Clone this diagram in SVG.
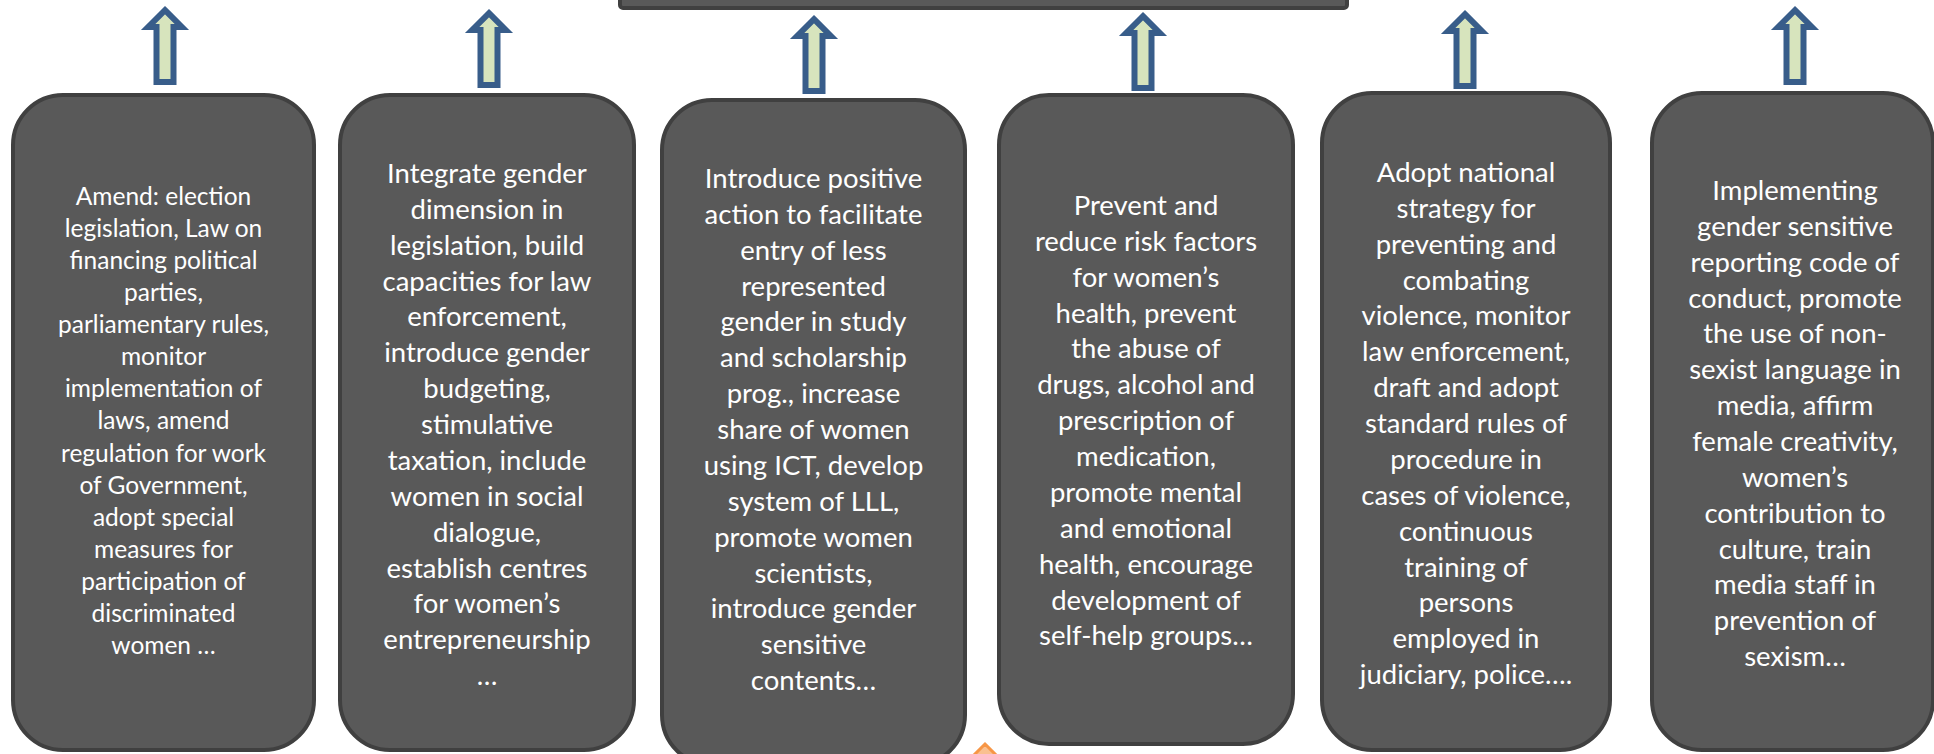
<svg xmlns="http://www.w3.org/2000/svg" xmlns:xlink="http://www.w3.org/1999/xlink" width="1934" height="754" viewBox="0 0 1934 754">
<style>
.box{fill:#595959;stroke:#404040;stroke-width:4}
.arr{fill:#d7e4bd;stroke:#385d8a;stroke-width:6;stroke-linejoin:miter;stroke-miterlimit:4}
.t{font-family:Lato,"Open Sans","Liberation Sans",sans-serif;fill:#ffffff;text-anchor:middle;font-size:27.5px}
.t1{font-size:24.5px}
</style>
<defs>
<polygon id="up" class="arr" points="0,4.2 16.8,21 8.5,21 8.5,76 -8.5,76 -8.5,21 -16.8,21"/>
</defs>
<rect width="1934" height="754" fill="#ffffff"/>
<g id="top-box">
<rect class="box" x="620" y="-30" width="727" height="38" rx="3"/>
</g>
<g id="connectors">
<use xlink:href="#up" href="#up" x="165" y="6"/>
<use xlink:href="#up" href="#up" x="489" y="9"/>
<use xlink:href="#up" href="#up" x="814" y="15"/>
<use xlink:href="#up" href="#up" x="1143" y="12"/>
<use xlink:href="#up" href="#up" x="1465" y="10"/>
<use xlink:href="#up" href="#up" x="1795" y="6"/>
<polygon points="985,744 1013,772 999,772 999,800 971,800 971,772 957,772" fill="#fac090" stroke="#f79646" stroke-width="3"/>
</g>
<g id="box1">
<rect class="box" x="13" y="95" width="301" height="655" rx="50"/>
<text class="t t1" x="163.5" y="205">Amend: election</text>
<text class="t t1" x="163.5" y="237">legislation, Law on</text>
<text class="t t1" x="163.5" y="269">financing political</text>
<text class="t t1" x="163.5" y="301">parties,</text>
<text class="t t1" x="163.5" y="333">parliamentary rules,</text>
<text class="t t1" x="163.5" y="365">monitor</text>
<text class="t t1" x="163.5" y="397">implementation of</text>
<text class="t t1" x="163.5" y="429">laws, amend</text>
<text class="t t1" x="163.5" y="462">regulation for work</text>
<text class="t t1" x="163.5" y="494">of Government,</text>
<text class="t t1" x="163.5" y="526">adopt special</text>
<text class="t t1" x="163.5" y="558">measures for</text>
<text class="t t1" x="163.5" y="590">participation of</text>
<text class="t t1" x="163.5" y="622">discriminated</text>
<text class="t t1" x="163.5" y="654">women …</text>
</g>
<g id="box2">
<rect class="box" x="340" y="95" width="294" height="655" rx="50"/>
<text class="t" x="487" y="183">Integrate gender</text>
<text class="t" x="487" y="219">dimension in</text>
<text class="t" x="487" y="255">legislation, build</text>
<text class="t" x="487" y="291">capacities for law</text>
<text class="t" x="487" y="326">enforcement,</text>
<text class="t" x="487" y="362">introduce gender</text>
<text class="t" x="487" y="398">budgeting,</text>
<text class="t" x="487" y="434">stimulative</text>
<text class="t" x="487" y="470">taxation, include</text>
<text class="t" x="487" y="506">women in social</text>
<text class="t" x="487" y="542">dialogue,</text>
<text class="t" x="487" y="578">establish centres</text>
<text class="t" x="487" y="613">for women’s</text>
<text class="t" x="487" y="649">entrepreneurship</text>
<text class="t" x="487" y="685">…</text>
</g>
<g id="box3">
<rect class="box" x="662" y="100" width="303" height="665" rx="50"/>
<text class="t" x="813.5" y="188">Introduce positive</text>
<text class="t" x="813.5" y="224">action to facilitate</text>
<text class="t" x="813.5" y="260">entry of less</text>
<text class="t" x="813.5" y="296">represented</text>
<text class="t" x="813.5" y="331">gender in study</text>
<text class="t" x="813.5" y="367">and scholarship</text>
<text class="t" x="813.5" y="403">prog., increase</text>
<text class="t" x="813.5" y="439">share of women</text>
<text class="t" x="813.5" y="475">using ICT, develop</text>
<text class="t" x="813.5" y="511">system of LLL,</text>
<text class="t" x="813.5" y="547">promote women</text>
<text class="t" x="813.5" y="583">scientists,</text>
<text class="t" x="813.5" y="618">introduce gender</text>
<text class="t" x="813.5" y="654">sensitive</text>
<text class="t" x="813.5" y="690">contents…</text>
</g>
<g id="box4">
<rect class="box" x="999" y="95" width="294" height="649" rx="50"/>
<text class="t" x="1146" y="215">Prevent and</text>
<text class="t" x="1146" y="251">reduce risk factors</text>
<text class="t" x="1146" y="287">for women’s</text>
<text class="t" x="1146" y="323">health, prevent</text>
<text class="t" x="1146" y="358">the abuse of</text>
<text class="t" x="1146" y="394">drugs, alcohol and</text>
<text class="t" x="1146" y="430">prescription of</text>
<text class="t" x="1146" y="466">medication,</text>
<text class="t" x="1146" y="502">promote mental</text>
<text class="t" x="1146" y="538">and emotional</text>
<text class="t" x="1146" y="574">health, encourage</text>
<text class="t" x="1146" y="610">development of</text>
<text class="t" x="1146" y="645">self-help groups…</text>
</g>
<g id="box5">
<rect class="box" x="1322" y="93" width="288" height="657" rx="50"/>
<text class="t" x="1466" y="182">Adopt national</text>
<text class="t" x="1466" y="218">strategy for</text>
<text class="t" x="1466" y="254">preventing and</text>
<text class="t" x="1466" y="290">combating</text>
<text class="t" x="1466" y="325">violence, monitor</text>
<text class="t" x="1466" y="361">law enforcement,</text>
<text class="t" x="1466" y="397">draft and adopt</text>
<text class="t" x="1466" y="433">standard rules of</text>
<text class="t" x="1466" y="469">procedure in</text>
<text class="t" x="1466" y="505">cases of violence,</text>
<text class="t" x="1466" y="541">continuous</text>
<text class="t" x="1466" y="577">training of</text>
<text class="t" x="1466" y="612">persons</text>
<text class="t" x="1466" y="648">employed in</text>
<text class="t" x="1466" y="684">judiciary, police….</text>
</g>
<g id="box6">
<rect class="box" x="1652" y="93" width="281" height="657" rx="50"/>
<text class="t" x="1795" y="200">Implementing</text>
<text class="t" x="1795" y="236">gender sensitive</text>
<text class="t" x="1795" y="272">reporting code of</text>
<text class="t" x="1795" y="308">conduct, promote</text>
<text class="t" x="1795" y="343">the use of non-</text>
<text class="t" x="1795" y="379">sexist language in</text>
<text class="t" x="1795" y="415">media, affirm</text>
<text class="t" x="1795" y="451">female creativity,</text>
<text class="t" x="1795" y="487">women’s</text>
<text class="t" x="1795" y="523">contribution to</text>
<text class="t" x="1795" y="559">culture, train</text>
<text class="t" x="1795" y="594">media staff in</text>
<text class="t" x="1795" y="630">prevention of</text>
<text class="t" x="1795" y="666">sexism…</text>
</g>
</svg>
